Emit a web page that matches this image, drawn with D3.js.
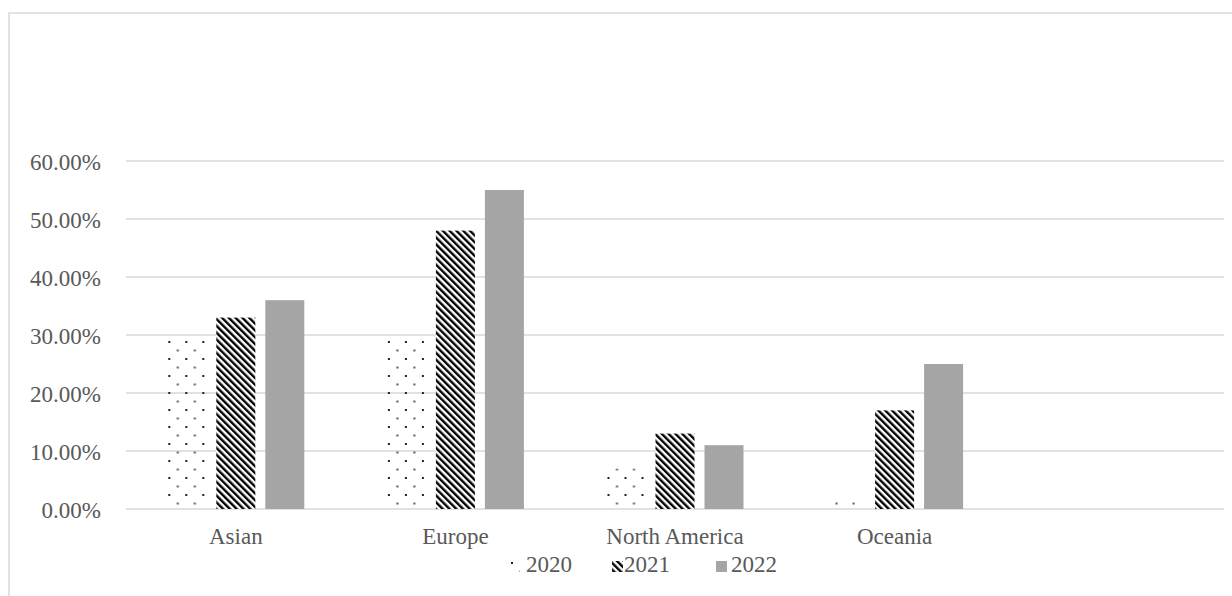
<!DOCTYPE html>
<html>
<head>
<meta charset="utf-8">
<script src="https://cdn.jsdelivr.net/npm/d3@7"></script>
<style>
  html, body { margin: 0; padding: 0; background: #fff; }
  svg { display: block; }
  text { font-family: "Liberation Serif", "Times New Roman", serif; fill: #595959; }
</style>
</head>
<body>
<svg id="chart" width="1232" height="596"></svg>
<script>
// Regions along the x axis (the last slot is left empty)
const categories = ["Asian", "Europe", "North America", "Oceania", ""];
const years = ["2020", "2021", "2022"];
const values2020 = [0.30, 0.29, 0.07, 0.02, null];
const values2021 = [0.33, 0.48, 0.13, 0.17, null];
const values2022 = [0.36, 0.55, 0.11, 0.25, null];
const yTicks = [0, 0.1, 0.2, 0.3, 0.4, 0.5, 0.6];

const seriesValues = [values2020, values2021, values2022];

const svg = d3.select("#chart");
const W = 1232, H = 596;
const plot = { left: 126, right: 1224, top: 161, bottom: 509 };
const fontSize = 23;

// Fill patterns for each series
const defs = svg.append("defs");
const dots = defs.append("pattern")
  .attr("id", "pat2020").attr("patternUnits", "userSpaceOnUse")
  .attr("width", 17).attr("height", 17).attr("x", 1).attr("y", 1);
dots.append("rect").attr("x", 0).attr("y", 0).attr("width", 2).attr("height", 2).attr("fill", "#222");
dots.append("rect").attr("x", 8.5).attr("y", 8.5).attr("width", 2).attr("height", 2).attr("fill", "#555");

const stripes = defs.append("pattern")
  .attr("id", "pat2021").attr("patternUnits", "userSpaceOnUse")
  .attr("width", 4.8).attr("height", 10)
  .attr("patternTransform", "rotate(-45)");
stripes.append("rect").attr("width", 4.8).attr("height", 10).attr("fill", "#fff");
stripes.append("rect").attr("width", 2.4).attr("height", 10).attr("fill", "#000");

const fills = ["url(#pat2020)", "url(#pat2021)", "#a5a5a5"];

// Outer frame
svg.append("rect")
  .attr("x", 9).attr("y", 13)
  .attr("width", W).attr("height", H)
  .attr("fill", "none").attr("stroke", "#d9d9d9").attr("stroke-width", 1.5);

const x0 = d3.scaleBand().domain(d3.range(categories.length))
  .range([plot.left, plot.right]).padding(0);
const groupWidth = 137;
const x1 = d3.scaleBand().domain(years).range([0, groupWidth]).paddingInner(10 / 49).paddingOuter(0);
const y = d3.scaleLinear().domain([0, 0.6]).range([plot.bottom, plot.top]);

// Gridlines
svg.append("g").selectAll("line").data(yTicks).join("line")
  .attr("x1", plot.left).attr("x2", plot.right)
  .attr("y1", d => y(d)).attr("y2", d => y(d))
  .attr("stroke", "#d9d9d9").attr("stroke-width", 1.5);

// Y axis labels
const yAxis = d3.axisLeft(y).tickValues(yTicks)
  .tickFormat(d => (d * 100).toFixed(2) + "%").tickSize(0).tickPadding(25);
const gy = svg.append("g").attr("transform", `translate(${plot.left},0)`).call(yAxis);
gy.select(".domain").remove();
gy.selectAll("text").attr("font-size", fontSize).attr("fill", "#595959")
  .attr("font-family", "Liberation Serif, serif").attr("dy", "0.35em");

// Bars
const groups = svg.append("g").selectAll("g").data(categories).join("g")
  .attr("transform", (d, i) => `translate(${x0(i) + (x0.bandwidth() - groupWidth) / 2},0)`);
groups.selectAll("rect")
  .data((d, i) => years.map((yr, s) => ({ yr, s, v: seriesValues[s][i] })).filter(e => e.v != null))
  .join("rect")
  .attr("x", e => x1(e.yr))
  .attr("width", x1.bandwidth())
  .attr("y", e => y(e.v))
  .attr("height", e => y(0) - y(e.v))
  .attr("fill", e => fills[e.s]);

// Category labels
const xAxis = d3.axisBottom(x0).tickFormat(i => categories[i]).tickSize(0).tickPadding(19);
const gx = svg.append("g").attr("transform", `translate(0,${plot.bottom})`).call(xAxis);
gx.select(".domain").remove();
gx.selectAll("text").attr("font-size", fontSize).attr("fill", "#595959")
  .attr("font-family", "Liberation Serif, serif");

// Legend
const legendItems = [
  { label: years[0], fill: fills[0], sx: 509, tx: 526 },
  { label: years[1], fill: fills[1], sx: 612, tx: 624 },
  { label: years[2], fill: fills[2], sx: 716, tx: 731 }
];
const lg = svg.append("g");
lg.selectAll("rect").data(legendItems).join("rect")
  .attr("x", d => d.sx).attr("y", 561).attr("width", 11).attr("height", 11)
  .attr("fill", d => d.fill);
lg.selectAll("text").data(legendItems).join("text")
  .attr("x", d => d.tx).attr("y", 572)
  .attr("font-size", fontSize)
  .text(d => d.label);
</script>
</body>
</html>
